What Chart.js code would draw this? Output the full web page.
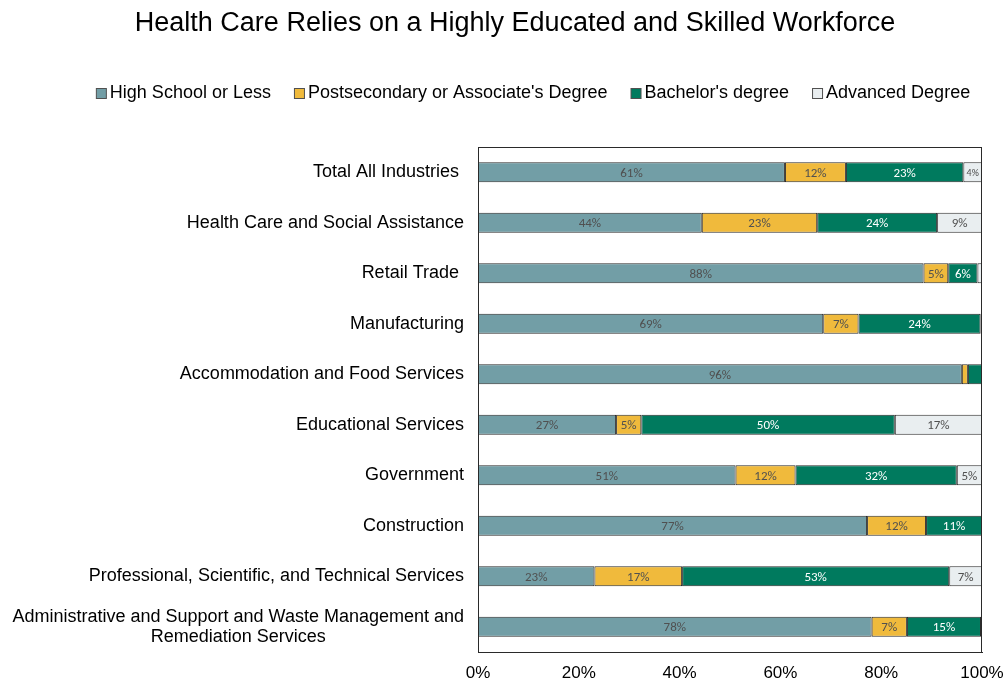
<!DOCTYPE html>
<html>
<head>
<meta charset="utf-8">
<title>Health Care Relies on a Highly Educated and Skilled Workforce</title>
<script src="https://cdn.jsdelivr.net/npm/chart.js@4.4.1/dist/chart.umd.min.js"></script>
<style>
  html, body { margin: 0; padding: 0; background: #ffffff; }
  #wrap { width: 1005px; height: 680px; }
</style>
</head>
<body>
<div id="wrap"><canvas id="chart" width="1005" height="680"></canvas></div>
<script>
// Industries, top to bottom
const categories = [
  "Total All Industries ",
  "Health Care and Social Assistance",
  "Retail Trade ",
  "Manufacturing",
  "Accommodation and Food Services",
  "Educational Services",
  "Government",
  "Construction",
  "Professional, Scientific, and Technical Services",
  ["Administrative and Support and Waste Management and", "Remediation Services"]
];

// Share of workers by educational attainment (%)
const highSchoolOrLess = [60.9, 44.4, 88.4, 68.5, 96.0, 27.4, 51.1, 77.2, 23.1, 78.1];
const postsecondary    = [12.1, 22.9, 4.9, 7.0, 1.2, 5.0, 11.9, 11.7, 17.4, 7.0];
const bachelors        = [23.3, 23.8, 5.8, 24.2, 2.8, 50.3, 32.0, 11.1, 53.0, 14.7];
const advanced         = [3.7, 8.9, 0.9, 0.3, 0, 17.3, 5.0, 0, 6.5, 0.2];

const seriesNames = ["High School or Less", "Postsecondary or Associate's Degree", "Bachelor's degree", "Advanced Degree"];
const xTicks = [0, 20, 40, 60, 80, 100];

const titleText = "Health Care Relies on a Highly Educated and Skilled Workforce";
const FONT = "'Liberation Sans', Arial, sans-serif";
const LABEL_FONT = "Carlito, Lato, 'Open Sans', sans-serif";

const fills = ["#729ea6", "#f0ba3c", "#007a5e", "#e9eef0"];
const valueColors = ["#505050", "#505050", "#ffffff", "#505050"];
const series = [highSchoolOrLess, postsecondary, bachelors, advanced];

// Title, legend, category labels, plot frame and in-bar value labels
const decorations = {
  id: "decorations",
  afterDraw(chart) {
    const ctx = chart.ctx;
    const area = chart.chartArea;
    const yScale = chart.scales.y;
    ctx.save();

    // title
    ctx.fillStyle = "#000000";
    ctx.font = "27px " + FONT;
    ctx.textAlign = "center";
    ctx.textBaseline = "middle";
    ctx.fillText(titleText, 515, 24);

    // legend
    ctx.font = "18px " + FONT;
    const gap = 23, box = 10, textGap = 4;
    const widths = seriesNames.map(n => ctx.measureText(n).width);
    const total = widths.reduce((a, w) => a + box + textGap + w, 0) + gap * (seriesNames.length - 1);
    let lx = 533 - total / 2;
    const ly = 93;
    ctx.textAlign = "left";
    seriesNames.forEach((name, i) => {
      ctx.fillStyle = fills[i];
      ctx.fillRect(lx + 0.5, ly - box / 2 + 0.5, box, box);
      ctx.strokeStyle = "#505050";
      ctx.lineWidth = 1;
      ctx.strokeRect(lx + 0.5, ly - box / 2 + 0.5, box, box);
      ctx.fillStyle = "#000000";
      ctx.fillText(name, lx + box + textGap, ly);
      lx += box + textGap + widths[i] + gap;
    });

    // category labels
    ctx.font = "18px " + FONT;
    ctx.fillStyle = "#000000";
    const labelRight = area.left - 14;
    categories.forEach((cat, i) => {
      const y = yScale.getPixelForValue(i);
      if (Array.isArray(cat)) {
        const w0 = ctx.measureText(cat[0]).width;
        const cx = labelRight - w0 / 2;
        ctx.textAlign = "center";
        const lh = 20;
        cat.forEach((line, j) => {
          ctx.fillText(line, cx, y + (j - (cat.length - 1) / 2) * lh);
        });
      } else {
        ctx.textAlign = "right";
        ctx.fillText(cat, labelRight, y);
      }
    });

    // plot frame
    ctx.strokeStyle = "#2a2a2a";
    ctx.lineWidth = 1;
    ctx.strokeRect(Math.round(area.left) + 0.5, Math.round(area.top) + 0.5,
                   Math.round(area.right - area.left) - 1, Math.round(area.bottom - area.top));

    // value labels inside segments
    ctx.textAlign = "center";
    ctx.textBaseline = "middle";
    chart.data.datasets.forEach((ds, di) => {
      const meta = chart.getDatasetMeta(di);
      meta.data.forEach((bar, i) => {
        const v = ds.data[i];
        if (v < 3.5) return;
        const cx = (bar.x + bar.base) / 2;
        ctx.font = (v < 4.5 ? "10px " : "13px ") + LABEL_FONT;
        ctx.fillStyle = valueColors[di];
        ctx.fillText(Math.round(v) + "%", cx, bar.y + 1);
      });
    });

    ctx.restore();
  }
};

new Chart(document.getElementById("chart"), {
  type: "bar",
  data: {
    labels: categories,
    datasets: series.map((values, i) => ({
      label: seriesNames[i],
      data: values,
      backgroundColor: fills[i],
      borderColor: "#2a2a2a",
      borderWidth: 1,
      borderSkipped: false,
      barPercentage: 0.4,
      categoryPercentage: 1.0
    }))
  },
  options: {
    indexAxis: "y",
    responsive: false,
    animation: false,
    devicePixelRatio: 1,
    layout: { padding: { left: 0, right: 23, top: 147, bottom: 0 } },
    plugins: {
      legend: { display: false },
      title: { display: false },
      tooltip: { enabled: false }
    },
    scales: {
      x: {
        stacked: true,
        min: 0,
        max: 100,
        afterBuildTicks(scale) { scale.ticks = xTicks.map(v => ({ value: v })); },
        afterFit(scale) {
          scale.height = 28;
          scale.paddingLeft = 0;
          scale.paddingRight = 0;
        },
        grid: { display: false, drawTicks: false },
        border: { display: true, color: "#2a2a2a" },
        ticks: {
          padding: 11,
          color: "#000000",
          font: { family: FONT, size: 17 },
          callback: v => v + "%",
          maxRotation: 0
        }
      },
      y: {
        stacked: true,
        afterFit(scale) { scale.width = 478; },
        grid: { display: false, drawTicks: false },
        border: { display: true, color: "#2a2a2a" },
        ticks: { display: false }
      }
    }
  },
  plugins: [decorations]
});
</script>
</body>
</html>
